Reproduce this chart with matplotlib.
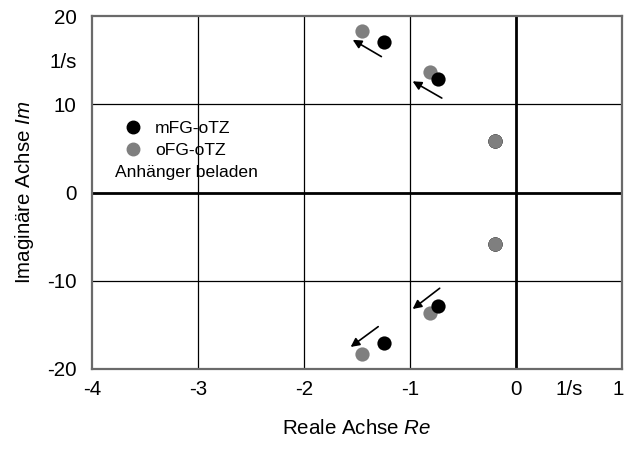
import matplotlib.pyplot as plt
import matplotlib.transforms as mtransforms
from matplotlib.lines import Line2D

plt.rcParams["font.family"] = ["Liberation Sans", "DejaVu Sans"]
plt.rcParams["mathtext.fontset"] = "custom"
plt.rcParams["mathtext.rm"] = "Liberation Sans"
plt.rcParams["mathtext.it"] = "Liberation Sans:italic"

# pole positions (real part, imaginary part) in 1/s
re_mfg = [-1.25, -0.74, -0.20, -0.20, -0.74, -1.25]
im_mfg = [17.1, 12.9, 5.8, -5.8, -12.9, -17.1]
re_ofg = [-1.45, -0.81, -0.20, -0.20, -0.81, -1.45]
im_ofg = [18.3, 13.6, 5.8, -5.8, -13.6, -18.3]

# arrows showing the pole shift (tail -> head)
arrow_tail = [(-1.27, 15.4), (-0.70, 10.7), (-0.72, -10.85), (-1.30, -15.2)]
arrow_head = [(-1.54, 17.3), (-0.975, 12.6), (-0.975, -13.2), (-1.56, -17.5)]

x_ticks = [-4, -3, -2, -1, 0, 0.5, 1]
x_labels = ["-4", "-3", "-2", "-1", "0", "1/s", "1"]
y_ticks = [-20, -10, 0, 10, 15, 20]
y_labels = ["-20", "-10", "0", "10", "1/s", "20"]

GRAY = "#7f7f7f"

fig = plt.figure(figsize=(6.26, 4.49), dpi=100)
ax = fig.add_axes([92 / 626, 80 / 449, 530 / 626, 353 / 449])
ax.set_xlim(-4, 1)
ax.set_ylim(-20, 20)

for x in [-3, -2, -1]:
    ax.axvline(x, color="black", lw=0.9, zorder=1)
for y in [-10, 10]:
    ax.axhline(y, color="black", lw=0.9, zorder=1)
ax.axvline(0, color="black", lw=2.0, zorder=1)
ax.axhline(0, color="black", lw=2.0, zorder=1)

ax.scatter(re_mfg, im_mfg, s=105, color="black", zorder=3, linewidths=0)
ax.scatter(re_ofg, im_ofg, s=105, color=GRAY, zorder=2, linewidths=0)
# the two oscillation poles coincide; grey drawn on top there
ax.scatter(re_ofg[2:4], im_ofg[2:4], s=105, color=GRAY, zorder=4, linewidths=0)

for (tx, ty), (hx, hy) in zip(arrow_tail, arrow_head):
    ax.annotate("", xy=(hx, hy), xytext=(tx, ty),
                arrowprops=dict(arrowstyle="-|>", color="black", lw=1.2,
                                mutation_scale=13, shrinkA=0, shrinkB=0),
                zorder=5)

ax.set_xticks(x_ticks)
ax.set_xticklabels(x_labels)
ax.set_yticks(y_ticks)
ax.set_yticklabels(y_labels)
ax.tick_params(length=0, labelsize=14.8, pad=8)
ax.tick_params(axis="y", pad=11)

# keep the last x label inside the figure edge
last = ax.get_xticklabels()[-1]
last.set_transform(last.get_transform()
                   + mtransforms.ScaledTranslation(-4 / 100, 0, fig.dpi_scale_trans))

for sp in ax.spines.values():
    sp.set_color("#6a6a6a")
    sp.set_linewidth(1.6)

ax.set_xlabel("Reale Achse $\\it{Re}$", fontsize=14.8, labelpad=14)
ax.set_ylabel("Imaginäre Achse $\\it{Im}$", fontsize=14.8, labelpad=8)

handles = [
    Line2D([], [], marker="o", ls="", color="black", markersize=9),
    Line2D([], [], marker="o", ls="", color=GRAY, markersize=9),
]
ax.legend(handles, ["mFG-oTZ", "oFG-oTZ"], loc="upper left",
          bbox_to_anchor=(0.045, 0.722), frameon=False, fontsize=12.6,
          handletextpad=0.65, labelspacing=0.38, handlelength=1.2,
          borderaxespad=0)
ax.text(115, 449 - 172, "Anhänger beladen", transform=None, fontsize=12.6,
        va="center", ha="left")

fig.savefig("out.png", dpi=100)
